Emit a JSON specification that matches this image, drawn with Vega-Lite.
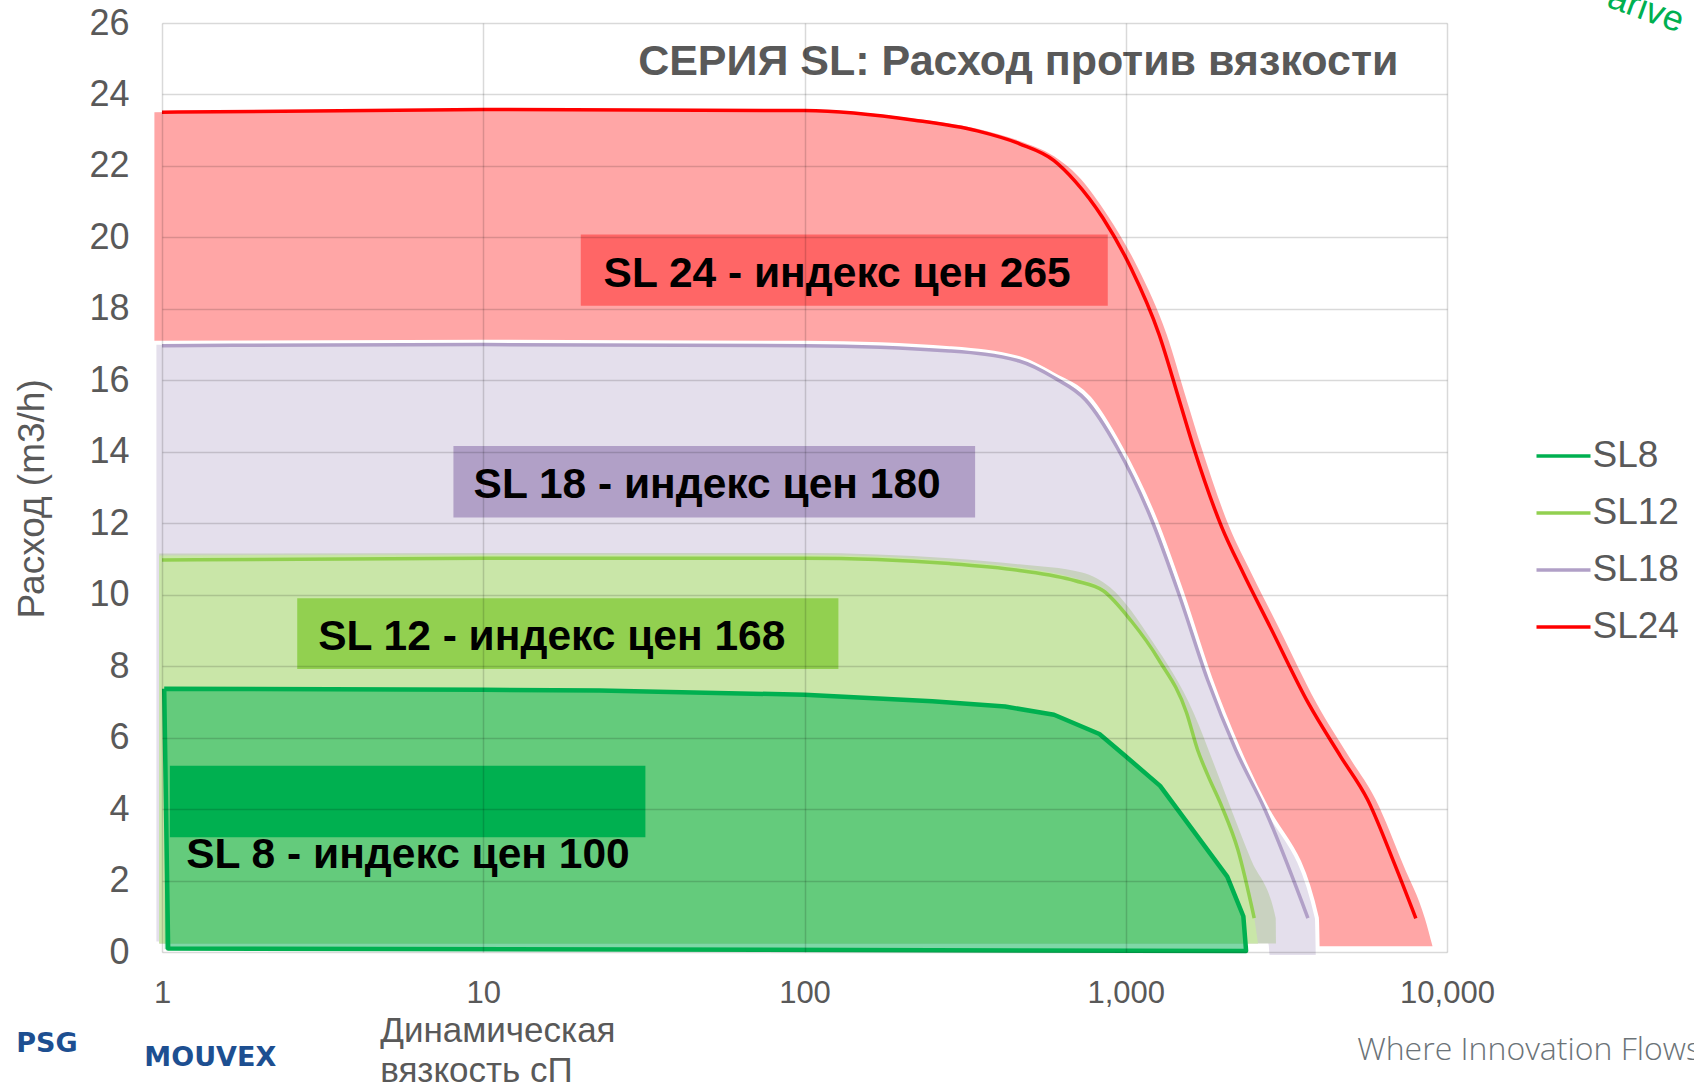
{
  "$schema": "https://vega.github.io/schema/vega-lite/v6.json",
  "width": 1285,
  "height": 929,
  "autosize": {"type": "none"},
  "padding": {"left": 162, "top": 23, "right": 247, "bottom": 133},
  "background": "white",
  "config": {"view": {"stroke": null}, "font": "Liberation Sans"},
  "datasets": {
    "lines": [
      {"series": "SL24", "i": 0, "x": 1, "y": 23.5},
      {"series": "SL24", "i": 1, "x": 10, "y": 23.58},
      {"series": "SL24", "i": 2, "x": 100, "y": 23.55},
      {"series": "SL24", "i": 3, "x": 220, "y": 23.28},
      {"series": "SL24", "i": 4, "x": 345, "y": 22.98},
      {"series": "SL24", "i": 5, "x": 467, "y": 22.62},
      {"series": "SL24", "i": 6, "x": 598, "y": 22.15},
      {"series": "SL24", "i": 7, "x": 696, "y": 21.57},
      {"series": "SL24", "i": 8, "x": 848, "y": 20.55},
      {"series": "SL24", "i": 9, "x": 1037, "y": 19.15},
      {"series": "SL24", "i": 10, "x": 1269, "y": 17.29},
      {"series": "SL24", "i": 11, "x": 1469, "y": 15.43},
      {"series": "SL24", "i": 12, "x": 1626, "y": 14.12},
      {"series": "SL24", "i": 13, "x": 1988, "y": 11.9},
      {"series": "SL24", "i": 14, "x": 2322, "y": 10.6},
      {"series": "SL24", "i": 15, "x": 2818, "y": 9.09},
      {"series": "SL24", "i": 16, "x": 3698, "y": 6.97},
      {"series": "SL24", "i": 17, "x": 4667, "y": 5.47},
      {"series": "SL24", "i": 18, "x": 5662, "y": 4.26},
      {"series": "SL24", "i": 19, "x": 6874, "y": 2.45},
      {"series": "SL24", "i": 20, "x": 8000, "y": 0.94},
      {"series": "SL18", "i": 0, "x": 1, "y": 16.97},
      {"series": "SL18", "i": 1, "x": 10, "y": 17.0},
      {"series": "SL18", "i": 2, "x": 100, "y": 16.97},
      {"series": "SL18", "i": 3, "x": 283, "y": 16.82},
      {"series": "SL18", "i": 4, "x": 466, "y": 16.54},
      {"series": "SL18", "i": 5, "x": 599, "y": 16.07},
      {"series": "SL18", "i": 6, "x": 750, "y": 15.45},
      {"series": "SL18", "i": 7, "x": 940, "y": 14.12},
      {"series": "SL18", "i": 8, "x": 1207, "y": 12.07},
      {"series": "SL18", "i": 9, "x": 1472, "y": 9.95},
      {"series": "SL18", "i": 10, "x": 1797, "y": 7.62},
      {"series": "SL18", "i": 11, "x": 2199, "y": 5.66},
      {"series": "SL18", "i": 12, "x": 2710, "y": 3.99},
      {"series": "SL18", "i": 13, "x": 3690, "y": 0.95},
      {"series": "SL12", "i": 0, "x": 1, "y": 10.97},
      {"series": "SL12", "i": 1, "x": 10, "y": 11.02},
      {"series": "SL12", "i": 2, "x": 100, "y": 11.02},
      {"series": "SL12", "i": 3, "x": 283, "y": 10.87},
      {"series": "SL12", "i": 4, "x": 466, "y": 10.68},
      {"series": "SL12", "i": 5, "x": 696, "y": 10.39},
      {"series": "SL12", "i": 6, "x": 851, "y": 10.11},
      {"series": "SL12", "i": 7, "x": 1039, "y": 9.27},
      {"series": "SL12", "i": 8, "x": 1267, "y": 8.18},
      {"series": "SL12", "i": 9, "x": 1547, "y": 6.69},
      {"series": "SL12", "i": 10, "x": 1673, "y": 5.66},
      {"series": "SL12", "i": 11, "x": 1800, "y": 4.95},
      {"series": "SL12", "i": 12, "x": 1991, "y": 4.07},
      {"series": "SL12", "i": 13, "x": 2234, "y": 2.86},
      {"series": "SL12", "i": 14, "x": 2511, "y": 0.95},
      {"series": "SL8", "i": 0, "x": 1.016, "y": 7.37},
      {"series": "SL8", "i": 1, "x": 10, "y": 7.34},
      {"series": "SL8", "i": 2, "x": 23, "y": 7.32},
      {"series": "SL8", "i": 3, "x": 100, "y": 7.2},
      {"series": "SL8", "i": 4, "x": 250, "y": 7.02},
      {"series": "SL8", "i": 5, "x": 421, "y": 6.87},
      {"series": "SL8", "i": 6, "x": 598, "y": 6.64},
      {"series": "SL8", "i": 7, "x": 828, "y": 6.1},
      {"series": "SL8", "i": 8, "x": 993, "y": 5.5},
      {"series": "SL8", "i": 9, "x": 1279, "y": 4.65},
      {"series": "SL8", "i": 10, "x": 2070, "y": 2.11},
      {"series": "SL8", "i": 11, "x": 2323, "y": 1.0},
      {"series": "SL8", "i": 12, "x": 2369, "y": 0.03},
      {"series": "SL8", "i": 13, "x": 1.045, "y": 0.1},
      {"series": "SL8", "i": 14, "x": 1.016, "y": 7.37}
    ],
    "areas": [
      {"shape": "SL24", "x": 0.947, "y": 23.5, "y2": 0.24},
      {"shape": "SL24", "x": 10, "y": 23.6, "y2": 0.24},
      {"shape": "SL24", "x": 100, "y": 23.58, "y2": 0.24},
      {"shape": "SL24", "x": 220, "y": 23.32, "y2": 0.24},
      {"shape": "SL24", "x": 345, "y": 23.04, "y2": 0.24},
      {"shape": "SL24", "x": 467, "y": 22.7, "y2": 0.24},
      {"shape": "SL24", "x": 598, "y": 22.27, "y2": 0.24},
      {"shape": "SL24", "x": 710, "y": 21.72, "y2": 0.24},
      {"shape": "SL24", "x": 880, "y": 20.6, "y2": 0.24},
      {"shape": "SL24", "x": 1090, "y": 19.15, "y2": 0.24},
      {"shape": "SL24", "x": 1340, "y": 17.29, "y2": 0.24},
      {"shape": "SL24", "x": 1550, "y": 15.43, "y2": 0.24},
      {"shape": "SL24", "x": 1720, "y": 14.12, "y2": 0.24},
      {"shape": "SL24", "x": 2100, "y": 11.9, "y2": 0.24},
      {"shape": "SL24", "x": 2460, "y": 10.6, "y2": 0.24},
      {"shape": "SL24", "x": 2990, "y": 9.09, "y2": 0.24},
      {"shape": "SL24", "x": 3920, "y": 6.97, "y2": 0.16},
      {"shape": "SL24", "x": 4950, "y": 5.47, "y2": 0.16},
      {"shape": "SL24", "x": 6000, "y": 4.26, "y2": 0.16},
      {"shape": "SL24", "x": 7300, "y": 2.45, "y2": 0.16},
      {"shape": "SL24", "x": 8535, "y": 0.94, "y2": 0.16},
      {"shape": "SL24", "x": 9015, "y": 0.16, "y2": 0.16},
      {"shape": "SL18", "x": 0.947, "y": 17.05, "y2": 0.24},
      {"shape": "SL18", "x": 10, "y": 17.08, "y2": 0.24},
      {"shape": "SL18", "x": 100, "y": 17.05, "y2": 0.24},
      {"shape": "SL18", "x": 283, "y": 16.9, "y2": 0.24},
      {"shape": "SL18", "x": 466, "y": 16.62, "y2": 0.24},
      {"shape": "SL18", "x": 599, "y": 16.15, "y2": 0.24},
      {"shape": "SL18", "x": 770, "y": 15.5, "y2": 0.24},
      {"shape": "SL18", "x": 965, "y": 14.12, "y2": 0.24},
      {"shape": "SL18", "x": 1240, "y": 12.07, "y2": 0.24},
      {"shape": "SL18", "x": 1510, "y": 9.95, "y2": 0.24},
      {"shape": "SL18", "x": 1840, "y": 7.62, "y2": 0.24},
      {"shape": "SL18", "x": 2250, "y": 5.66, "y2": 0.24},
      {"shape": "SL18", "x": 2740, "y": 4.05, "y2": 0.24},
      {"shape": "SL18", "x": 2770, "y": 3.97, "y2": -0.14},
      {"shape": "SL18", "x": 3935, "y": 0.95, "y2": -0.14},
      {"shape": "SL18", "x": 3960, "y": -0.14, "y2": -0.14},
      {"shape": "band", "x": 0.98, "y": 11.15, "y2": 0.24},
      {"shape": "band", "x": 100, "y": 11.17, "y2": 0.24},
      {"shape": "band", "x": 283, "y": 11.02, "y2": 0.24},
      {"shape": "band", "x": 466, "y": 10.85, "y2": 0.24},
      {"shape": "band", "x": 731, "y": 10.62, "y2": 0.24},
      {"shape": "band", "x": 895, "y": 10.2, "y2": 0.24},
      {"shape": "band", "x": 1207, "y": 8.71, "y2": 0.24},
      {"shape": "band", "x": 1631, "y": 6.67, "y2": 0.24},
      {"shape": "band", "x": 1893, "y": 5.2, "y2": 0.24},
      {"shape": "band", "x": 2150, "y": 3.9, "y2": 0.24},
      {"shape": "band", "x": 2450, "y": 2.6, "y2": 0.24},
      {"shape": "band", "x": 2929, "y": 0.95, "y2": 0.24},
      {"shape": "band", "x": 2935, "y": 0.24, "y2": 0.24},
      {"shape": "SL12", "x": 0.98, "y": 11.1, "y2": 0.24},
      {"shape": "SL12", "x": 10, "y": 11.12, "y2": 0.24},
      {"shape": "SL12", "x": 100, "y": 11.12, "y2": 0.24},
      {"shape": "SL12", "x": 283, "y": 10.95, "y2": 0.24},
      {"shape": "SL12", "x": 466, "y": 10.76, "y2": 0.24},
      {"shape": "SL12", "x": 696, "y": 10.46, "y2": 0.24},
      {"shape": "SL12", "x": 851, "y": 10.17, "y2": 0.24},
      {"shape": "SL12", "x": 1039, "y": 9.32, "y2": 0.24},
      {"shape": "SL12", "x": 1267, "y": 8.22, "y2": 0.24},
      {"shape": "SL12", "x": 1547, "y": 6.72, "y2": 0.24},
      {"shape": "SL12", "x": 1673, "y": 5.69, "y2": 0.24},
      {"shape": "SL12", "x": 1800, "y": 4.98, "y2": 0.24},
      {"shape": "SL12", "x": 1991, "y": 4.1, "y2": 0.24},
      {"shape": "SL12", "x": 2234, "y": 2.9, "y2": 0.24},
      {"shape": "SL12", "x": 2511, "y": 0.97, "y2": 0.24},
      {"shape": "SL12", "x": 2580, "y": 0.24, "y2": 0.24},
      {"shape": "SL8", "x": 1.02, "y": 7.37, "y2": 0.08},
      {"shape": "SL8", "x": 10, "y": 7.34, "y2": 0.08},
      {"shape": "SL8", "x": 23, "y": 7.32, "y2": 0.08},
      {"shape": "SL8", "x": 100, "y": 7.2, "y2": 0.08},
      {"shape": "SL8", "x": 250, "y": 7.02, "y2": 0.08},
      {"shape": "SL8", "x": 421, "y": 6.87, "y2": 0.08},
      {"shape": "SL8", "x": 598, "y": 6.64, "y2": 0.08},
      {"shape": "SL8", "x": 828, "y": 6.1, "y2": 0.08},
      {"shape": "SL8", "x": 993, "y": 5.5, "y2": 0.08},
      {"shape": "SL8", "x": 1279, "y": 4.65, "y2": 0.07},
      {"shape": "SL8", "x": 2070, "y": 2.11, "y2": 0.05},
      {"shape": "SL8", "x": 2323, "y": 1.0, "y2": 0.04},
      {"shape": "SL8", "x": 2369, "y": 0.04, "y2": 0.04}
    ],
    "boxes": [
      {"series": "SL24", "x": 20.12, "x2": 879, "y": 18.09, "y2": 20.08},
      {"series": "SL18", "x": 8.075, "x2": 339.7, "y": 12.16, "y2": 14.16},
      {"series": "SL12", "x": 2.636, "x2": 127.5, "y": 7.92, "y2": 9.9},
      {"series": "SL8", "x": 1.058, "x2": 31.97, "y": 3.21, "y2": 5.21}
    ],
    "labels": [
      {"label": "SL 24 - индекс цен 265", "x": 23.69, "y": 18.62},
      {"label": "SL 18 - индекс цен 180", "x": 9.33, "y": 12.7},
      {"label": "SL 12 - индекс цен 168", "x": 3.064, "y": 8.46},
      {"label": "SL 8 - индекс цен 100", "x": 1.19, "y": 2.35}
    ],
    "title": [{"label": "СЕРИЯ SL: Расход против вязкости", "x": 462.8, "y": 24.54}],
    "footer": [{"label": "Where Innovation Flows", "x": 5253, "y": -3.03}],
    "brand": [
      {"label": "PSG", "x": 0.352, "y": -2.79},
      {"label": "MOUVEX", "x": 0.881, "y": -3.18}
    ],
    "corner": [{"label": "arive", "x": 31140, "y": 26.47}]
  },
  "encoding": {
    "x": {
      "field": "x",
      "type": "quantitative",
      "scale": {"type": "log", "domain": [1, 10000], "nice": false},
      "axis": {
        "values": [1, 10, 100, 1000, 10000],
        "format": ",",
        "title": ["Динамическая", "вязкость сП"],
        "grid": true,
        "gridColor": "#000000",
        "gridOpacity": 0.15,
        "gridWidth": 1.5,
        "domain": false,
        "ticks": false,
        "labelFont": "Liberation Sans",
        "labelFontSize": 31,
        "labelColor": "#595959",
        "labelPadding": 26,
        "labelFlush": false,
        "labelOverlap": false,
        "zindex": 1,
        "titleFont": "Liberation Sans",
        "titleFontSize": 35,
        "titleFontWeight": "normal",
        "titleColor": "#595959",
        "titleAlign": "left",
        "titleBaseline": "alphabetic",
        "titleLineHeight": 40,
        "titleX": 217.7,
        "titleY": 89.4
      }
    },
    "y": {
      "field": "y",
      "type": "quantitative",
      "scale": {"domain": [0, 26], "nice": false, "zero": false},
      "axis": {
        "values": [0, 2, 4, 6, 8, 10, 12, 14, 16, 18, 20, 22, 24, 26],
        "title": "Расход (m3/h)",
        "grid": true,
        "gridColor": "#000000",
        "gridOpacity": 0.15,
        "gridWidth": 1.5,
        "domain": false,
        "ticks": false,
        "labelFont": "Liberation Sans",
        "labelFontSize": 36,
        "labelColor": "#595959",
        "labelPadding": 33,
        "labelOverlap": false,
        "zindex": 1,
        "titleFont": "Liberation Sans",
        "titleFontSize": 37,
        "titleFontWeight": "normal",
        "titleColor": "#595959",
        "titleAngle": 270,
        "titleAlign": "center",
        "titleBaseline": "alphabetic",
        "titleX": -118.4,
        "titleY": 475.3
      }
    }
  },
  "layer": [
    {
      "data": {"name": "areas"},
      "transform": [{"filter": "datum.shape === 'SL24'"}],
      "mark": {"type": "area", "color": "#FFA6A6", "interpolate": "monotone"},
      "encoding": {"y2": {"field": "y2"}}
    },
    {
      "data": {"name": "areas"},
      "transform": [{"filter": "datum.shape === 'SL18'"}],
      "mark": {"type": "area", "fill": "#E4DFEC", "stroke": "#FFFFFF", "strokeWidth": 4, "interpolate": "monotone"},
      "encoding": {"y2": {"field": "y2"}}
    },
    {
      "data": {"name": "areas"},
      "transform": [{"filter": "datum.shape === 'band'"}],
      "mark": {"type": "area", "color": "#C9D2C0", "interpolate": "monotone"},
      "encoding": {"y2": {"field": "y2"}}
    },
    {
      "data": {"name": "areas"},
      "transform": [{"filter": "datum.shape === 'SL12'"}],
      "mark": {"type": "area", "color": "#C9E6A8", "interpolate": "monotone"},
      "encoding": {"y2": {"field": "y2"}}
    },
    {
      "data": {"name": "areas"},
      "transform": [{"filter": "datum.shape === 'SL8'"}],
      "mark": {"type": "area", "color": "#00B050", "fillOpacity": 0.5, "interpolate": "linear"},
      "encoding": {"y2": {"field": "y2"}}
    },
    {
      "data": {"name": "boxes"},
      "transform": [{"filter": "datum.series === 'SL24'"}],
      "mark": {"type": "rect", "color": "#FF6666"},
      "encoding": {"x2": {"field": "x2"}, "y2": {"field": "y2"}}
    },
    {
      "data": {"name": "boxes"},
      "transform": [{"filter": "datum.series === 'SL18'"}],
      "mark": {"type": "rect", "color": "#B1A0C7"},
      "encoding": {"x2": {"field": "x2"}, "y2": {"field": "y2"}}
    },
    {
      "data": {"name": "boxes"},
      "transform": [{"filter": "datum.series === 'SL12'"}],
      "mark": {"type": "rect", "color": "#92D050"},
      "encoding": {"x2": {"field": "x2"}, "y2": {"field": "y2"}}
    },
    {
      "data": {"name": "boxes"},
      "transform": [{"filter": "datum.series === 'SL8'"}],
      "mark": {"type": "rect", "color": "#00B050"},
      "encoding": {"x2": {"field": "x2"}, "y2": {"field": "y2"}}
    },
    {
      "data": {"name": "lines"},
      "transform": [{"filter": "datum.series !== 'SL8'"}],
      "mark": {"type": "line", "interpolate": "monotone", "strokeWidth": 3.5},
      "encoding": {
        "order": {"field": "i", "type": "quantitative"},
        "color": {
          "field": "series",
          "type": "nominal",
          "scale": {"domain": ["SL8", "SL12", "SL18", "SL24"], "range": ["#00B050", "#92D050", "#B1A0C7", "#FF0000"]},
          "legend": {
            "orient": "none",
            "legendX": 1372.5,
            "legendY": 404,
            "title": null,
            "symbolType": "stroke",
            "symbolSize": 2916,
            "symbolStrokeWidth": 3.5,
            "labelFont": "Liberation Sans",
            "labelFontSize": 37,
            "labelColor": "#595959",
            "labelOffset": 0,
            "rowPadding": 10,
            "padding": 0
          }
        }
      }
    },
    {
      "data": {"name": "lines"},
      "transform": [{"filter": "datum.series === 'SL8'"}],
      "mark": {"type": "line", "interpolate": "linear", "strokeJoin": "round", "strokeWidth": 4.5},
      "encoding": {
        "order": {"field": "i", "type": "quantitative"},
        "color": {"field": "series", "type": "nominal"}
      }
    },
    {
      "data": {"name": "labels"},
      "mark": {"type": "text", "align": "left", "baseline": "alphabetic", "font": "Liberation Sans", "fontSize": 42.5, "fontWeight": "bold", "color": "#000000"},
      "encoding": {"text": {"field": "label"}}
    },
    {
      "data": {"name": "title"},
      "mark": {"type": "text", "align": "center", "baseline": "alphabetic", "font": "Liberation Sans", "fontSize": 43, "fontWeight": "bold", "color": "#595959"},
      "encoding": {"text": {"field": "label"}}
    },
    {
      "data": {"name": "footer"},
      "mark": {"type": "text", "align": "left", "baseline": "alphabetic", "font": "Open Sans", "fontSize": 32, "fontWeight": 300, "color": "#6B7378"},
      "encoding": {"text": {"field": "label"}}
    },
    {
      "data": {"name": "brand"},
      "mark": {"type": "text", "align": "left", "baseline": "alphabetic", "font": "DejaVu Sans", "fontSize": 27, "fontWeight": "bold", "color": "#1D4F91"},
      "encoding": {"text": {"field": "label"}}
    },
    {
      "data": {"name": "corner"},
      "mark": {"type": "text", "align": "left", "baseline": "alphabetic", "font": "Liberation Sans", "fontSize": 36, "angle": 20, "color": "#00B050"},
      "encoding": {"text": {"field": "label"}}
    }
  ]
}
